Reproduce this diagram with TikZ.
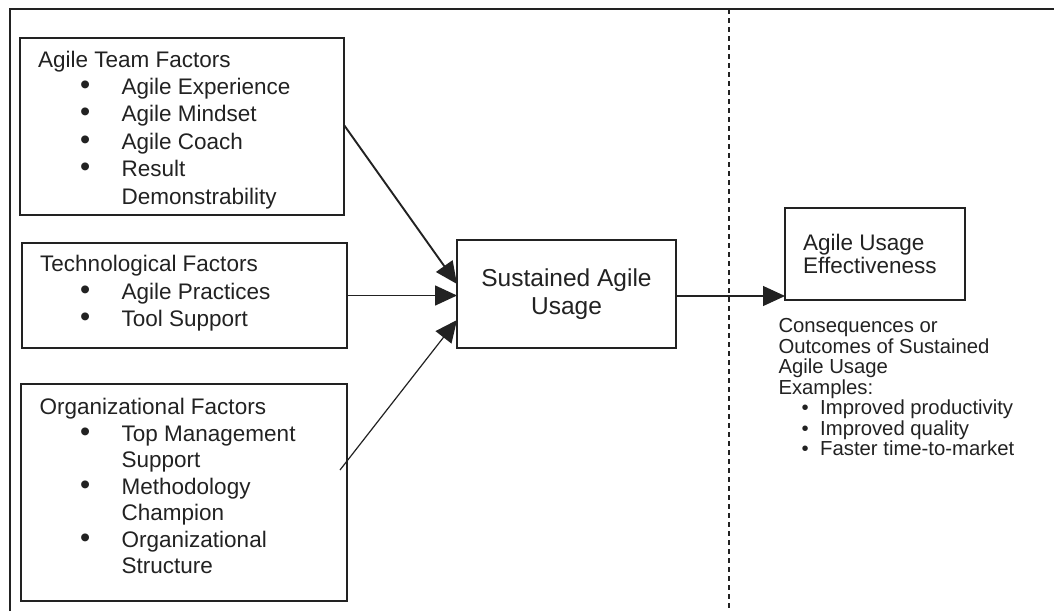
\documentclass[tikz,border=0pt]{standalone}
\usepackage{fontspec}
\setmainfont{Liberation Sans}
\usetikzlibrary{arrows.meta,calc}
\definecolor{ink}{HTML}{222222}
\begin{document}
\begin{tikzpicture}[x=1pt,y=-1pt,
  box/.style={draw=ink,line width=1.4pt,inner sep=0pt,outer sep=0pt},
  txt/.style={anchor=base west,inner sep=0pt,text=ink,font=\fontsize{22.5}{26}\selectfont},
  bul/.style={anchor=base west,inner sep=0pt,text=ink,font=\fontsize{29}{26}\selectfont},
  big/.style={inner sep=0pt,text=ink,font=\fontsize{24.5}{28}\selectfont,align=center},
  small/.style={anchor=base west,inner sep=0pt,text=ink,font=\fontsize{20.3}{20}\selectfont},
  arr/.style={draw=ink,line width=1.5pt,-{Triangle[length=22pt,width=20pt]}},
  frame/.style={draw=ink,line width=1.4pt}]
\useasboundingbox (0,0) rectangle (1054,611);
\fill[white] (0,0) rectangle (1054,611);
% frame and divider
\coordinate (fl) at (10,611);
\coordinate (fc) at (10,9);
\coordinate (fr) at (1054,9);
\draw[frame] (fl) -- (fc) -- (fr);
\coordinate (dt) at (729,9);
\coordinate (db) at (729,611);
\draw[ink,line width=1.3pt,dash pattern=on 5pt off 4pt] (dt) -- (db);
% boxes
\node[box,minimum width=324pt,minimum height=177pt] (team) at (182,126.5) {};
\node[box,minimum width=325pt,minimum height=105pt] (tech) at (184.5,295.5) {};
\node[box,minimum width=326pt,minimum height=217pt] (org) at (184,492.5) {};
\node[box,minimum width=219pt,minimum height=108pt] (sust) at (566.5,294) {};
\node[box,minimum width=180pt,minimum height=92pt] (eff) at (875,254) {};
% team text
\node[txt] (th) at (38,67) {Agile Team Factors};
\foreach \t/\y [count=\i] in {Agile Experience/94.4,Agile Mindset/121.8,Agile Coach/149.2,Result/176.6}{
  \node[bul] (tb\i) at (80,\y) {•};
  \node[txt] (tt\i) at (121.5,\y) {\t};
}
\node[txt] (tt5) at (121.5,204) {Demonstrability};
% tech text
\node[txt] (ch) at (40,271.5) {Technological Factors};
\foreach \t/\y [count=\i] in {Agile Practices/299,Tool Support/326.5}{
  \node[bul] (cb\i) at (80,\y) {•};
  \node[txt] (ct\i) at (121.5,\y) {\t};
}
% org text
\node[txt] (oh) at (39.5,414) {Organizational Factors};
\foreach \t/\y [count=\i] in {Top Management/441.2,Methodology/494.2,Organizational/547.2}{
  \node[bul] (ob\i) at (80,\y) {•};
  \node[txt] (ot\i) at (121.5,\y) {\t};
}
\node[txt] (os1) at (121.5,467.7) {Support};
\node[txt] (os2) at (121.5,520.7) {Champion};
\node[txt] (os3) at (121.5,573.7) {Structure};
% sustained
\node[big] (st) at (566.5,294) {Sustained Agile\\Usage};
% effectiveness
\node[txt] (e1) at (803,250) {Agile Usage};
\node[txt] (e2) at (803,273) {Effectiveness};
% consequences
\foreach \t/\y [count=\i] in {Consequences or/332.7,Outcomes of Sustained/353.2,Agile Usage/373.7,Examples:/394.2}{
  \node[small] (k\i) at (778.3,\y) {\t};
}
\foreach \t/\y [count=\i] in {Improved productivity/414.7,Improved quality/435.2,Faster time-to-market/455.7}{
  \node[small] (kb\i) at (801.5,\y) {•};
  \node[small] (kt\i) at (820,\y) {\t};
}
% arrows
\draw[arr,line width=1.9pt] ([yshift=1.5pt]team.east) -- ([yshift=10pt]sust.west);
\draw[arr,line width=1.6pt] (tech.east) -- (tech.east -| sust.west);
\draw[arr,line width=1.2pt] ([shift={(-7pt,22.5pt)}]org.east) -- ([yshift=-26pt]sust.west);
\draw[arr,line width=1.2pt] ([yshift=-2pt]sust.east) -- ([yshift=-2pt]sust.east -| eff.west);
\end{tikzpicture}
\end{document}
